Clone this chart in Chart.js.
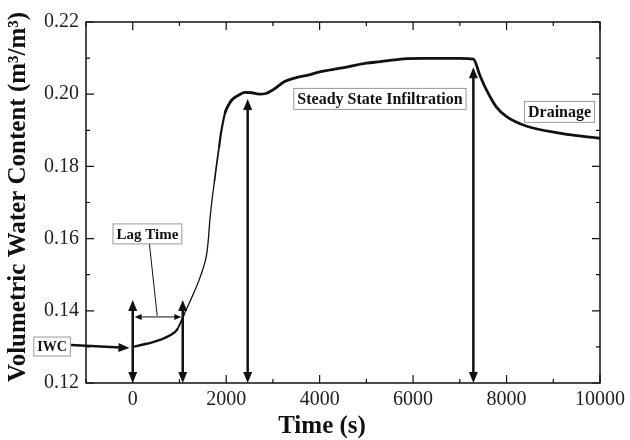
<!DOCTYPE html>
<html>
<head>
<meta charset="utf-8">
<script src="https://cdn.jsdelivr.net/npm/chart.js@4"></script>
<style>
  html, body { margin: 0; padding: 0; background: #fff; }
  #wrap { width: 630px; height: 440px; }
</style>
</head>
<body>
<div id="wrap"><canvas id="vwcChart" width="630" height="440"></canvas></div>
<script>
// readings taken off the sensor trace (time in s, water content in m3/m3)
const times = [0, 200, 400, 600, 800, 950, 1100, 1275, 1420, 1500, 1580, 1620, 1650, 1700, 1750,
  1800, 1850, 1880, 1920, 1980, 2050, 2120, 2250, 2400, 2550, 2700, 2850, 3000, 3250, 3500,
  3750, 4000, 4450, 5000, 5300, 5600, 5800, 6200, 6600, 7000, 7290, 7430, 7570, 7780, 8000,
  8420, 9130, 9500, 10000];
const vwc = [0.1300, 0.1306, 0.1312, 0.1320, 0.1332, 0.1348, 0.1390, 0.1440, 0.1485, 0.1515,
  0.1555, 0.1600, 0.1650, 0.1710, 0.1760, 0.1810, 0.1855, 0.1885, 0.1915, 0.1950, 0.1970,
  0.1984, 0.1996, 0.2005, 0.2004, 0.2000, 0.2002, 0.2012, 0.2035, 0.2046, 0.2053, 0.2062,
  0.2072, 0.2086, 0.2090, 0.2095, 0.2098, 0.2099, 0.2099, 0.2099, 0.2097, 0.2052, 0.2012,
  0.1965, 0.1938, 0.1912, 0.1892, 0.1885, 0.1878];

const xTickLabels = [0, 2000, 4000, 6000, 8000, 10000];
const yTickLabels = ['0.12', '0.14', '0.16', '0.18', '0.20', '0.22'];

const SERIF = "'Liberation Serif', 'Times New Roman', serif";

// arrows and labelled boxes, in data units
const arrows = [
  { x1: 0, y1: 0.1200, x2: 0, y2: 0.1430, both: true, w: 2.5, head: 'big' },
  { x1: 1070, y1: 0.1200, x2: 1070, y2: 0.1430, both: true, w: 2.5, head: 'big' },
  { x1: 2460, y1: 0.1200, x2: 2460, y2: 0.1987, both: true, w: 2.5, head: 'big' },
  { x1: 7290, y1: 0.1200, x2: 7290, y2: 0.2075, both: true, w: 2.5, head: 'big' },
  { x1: 40, y1: 0.1383, x2: 1040, y2: 0.1383, both: true, w: 1, head: 'small' },
  { x1: -1320, y1: 0.1305, x2: -70, y2: 0.1297, both: false, w: 2.5, head: 'big' }
];
const pointerLines = [
  { x1: 355, y1: 0.1588, x2: 524, y2: 0.1386 }
];
const boxes = [
  { text: 'Lag Time', x: 314, y: 0.1613, size: 15 },
  { text: 'IWC', x: -1726, y: 0.1301, size: 14 },
  { text: 'Steady State Infiltration', x: 5291, y: 0.1987, size: 16 },
  { text: 'Drainage', x: 9134, y: 0.1951, size: 16 }
];

function drawArrowHead(ctx, x, y, ang, len, half) {
  ctx.beginPath();
  ctx.moveTo(x, y);
  ctx.lineTo(x - len * Math.cos(ang) + half * Math.sin(ang), y - len * Math.sin(ang) - half * Math.cos(ang));
  ctx.lineTo(x - len * Math.cos(ang) - half * Math.sin(ang), y - len * Math.sin(ang) + half * Math.cos(ang));
  ctx.closePath();
  ctx.fill();
}

// trace looks thin on the steep rise and thick (noisy) elsewhere
function traceWidth(t) {
  if (t < 900) return 2.4;
  if (t < 1100) return 1.8;
  if (t < 1750) return 1.3;
  if (t < 1850) return 1.7;
  if (t < 1950) return 2.2;
  return 2.8;
}

const annotate = {
  id: 'annotate',
  afterDraw(chart) {
    const { ctx, chartArea: a, scales: { x, y } } = chart;
    ctx.save();
    ctx.strokeStyle = '#111';
    ctx.fillStyle = '#111';

    // frame
    ctx.lineWidth = 1.5;
    ctx.strokeRect(a.left, a.top, a.right - a.left, a.bottom - a.top);

    // inward ticks on all four sides
    ctx.lineWidth = 1.2;
    ctx.beginPath();
    x.ticks.forEach(t => {
      const px = x.getPixelForValue(t.value);
      const len = t.value % 2000 === 0 ? 8 : 4;
      ctx.moveTo(px, a.bottom); ctx.lineTo(px, a.bottom - len);
      ctx.moveTo(px, a.top); ctx.lineTo(px, a.top + len);
    });
    y.ticks.forEach(t => {
      const py = y.getPixelForValue(t.value);
      const len = Math.round(t.value * 100) % 2 === 0 ? 8 : 4;
      ctx.moveTo(a.left, py); ctx.lineTo(a.left + len, py);
      ctx.moveTo(a.right, py); ctx.lineTo(a.right - len, py);
    });
    ctx.stroke();

    // pointer lines
    ctx.lineWidth = 1;
    pointerLines.forEach(p => {
      ctx.beginPath();
      ctx.moveTo(x.getPixelForValue(p.x1), y.getPixelForValue(p.y1));
      ctx.lineTo(x.getPixelForValue(p.x2), y.getPixelForValue(p.y2));
      ctx.stroke();
    });

    // arrows
    arrows.forEach(ar => {
      const x1 = x.getPixelForValue(ar.x1), y1 = y.getPixelForValue(ar.y1);
      const x2 = x.getPixelForValue(ar.x2), y2 = y.getPixelForValue(ar.y2);
      const len = ar.head === 'big' ? 11 : 7;
      const half = ar.head === 'big' ? 4.5 : 3;
      const ang = Math.atan2(y2 - y1, x2 - x1);
      const ux = Math.cos(ang), uy = Math.sin(ang);
      ctx.lineWidth = ar.w;
      ctx.beginPath();
      ctx.moveTo(x1 + (ar.both ? ux * len * 0.8 : 0), y1 + (ar.both ? uy * len * 0.8 : 0));
      ctx.lineTo(x2 - ux * len * 0.8, y2 - uy * len * 0.8);
      ctx.stroke();
      drawArrowHead(ctx, x2, y2, ang, len, half);
      if (ar.both) drawArrowHead(ctx, x1, y1, ang + Math.PI, len, half);
    });

    // label boxes
    boxes.forEach(b => {
      ctx.font = `bold ${b.size}px ${SERIF}`;
      const w = ctx.measureText(b.text).width + 7;
      const h = b.size + 5;
      const cx = x.getPixelForValue(b.x), cy = y.getPixelForValue(b.y);
      ctx.fillStyle = '#fff';
      ctx.fillRect(cx - w / 2, cy - h / 2, w, h);
      ctx.strokeStyle = '#999';
      ctx.lineWidth = 1;
      ctx.strokeRect(cx - w / 2, cy - h / 2, w, h);
      ctx.fillStyle = '#111';
      ctx.textAlign = 'center';
      ctx.textBaseline = 'middle';
      ctx.fillText(b.text, cx, cy + 1);
    });

    // axis titles
    ctx.fillStyle = '#111';
    ctx.font = `bold 25px ${SERIF}`;
    ctx.textAlign = 'center';
    ctx.textBaseline = 'middle';
    ctx.fillText('Time (s)', 322, 427);
    ctx.translate(19, 197);
    ctx.rotate(-Math.PI / 2);
    ctx.fillText('Volumetric Water Content (m\u00B3/m\u00B3)', 0, 0);
    ctx.restore();
  }
};

const ctx = document.getElementById('vwcChart').getContext('2d');
new Chart(ctx, {
  type: 'line',
  data: {
    datasets: [{
      label: 'VWC',
      data: times.map((t, i) => ({ x: t, y: vwc[i] })),
      borderColor: '#111',
      borderWidth: 1.5,
      borderCapStyle: 'round',
      borderJoinStyle: 'round',
      pointRadius: 0,
      fill: false,
      cubicInterpolationMode: 'monotone',
      segment: {
        borderWidth: c => traceWidth(c.p0.parsed.x)
      }
    }]
  },
  options: {
    responsive: false,
    animation: false,
    layout: { padding: { left: 0, top: 22, right: 26, bottom: 0 } },
    plugins: {
      legend: { display: false },
      tooltip: { enabled: false }
    },
    scales: {
      x: {
        type: 'linear',
        min: -1000,
        max: 10000,
        afterFit: s => { s.height = 57; },
        grid: { display: false, drawTicks: false },
        border: { display: false },
        ticks: {
          stepSize: 1000,
          autoSkip: false,
          maxRotation: 0,
          padding: 5,
          color: '#222',
          font: { family: SERIF, size: 20 },
          callback: v => xTickLabels.includes(v) ? String(v) : ''
        }
      },
      y: {
        type: 'linear',
        min: 0.12,
        max: 0.22,
        afterFit: s => { s.width = 86; },
        grid: { display: false, drawTicks: false },
        border: { display: false },
        ticks: {
          stepSize: 0.01,
          autoSkip: false,
          padding: 7,
          color: '#222',
          font: { family: SERIF, size: 20 },
          callback: v => {
            const s = v.toFixed(2);
            return yTickLabels.includes(s) ? s : '';
          }
        }
      }
    }
  },
  plugins: [annotate]
});
</script>
</body>
</html>
